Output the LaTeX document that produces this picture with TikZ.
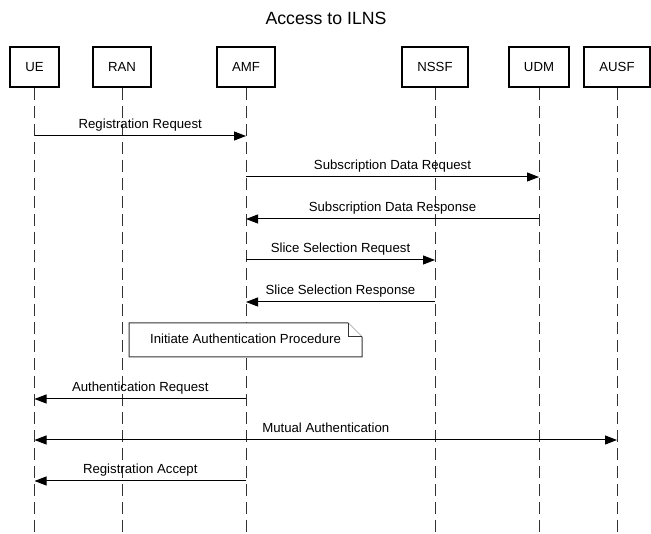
\documentclass[tikz,border=0pt]{standalone}
\usepackage{fontspec}
\setmainfont{Liberation Sans}
\usetikzlibrary{arrows.meta}
\usetikzlibrary{calc}

\tikzset{
    actor/.style={draw, line width=2pt, minimum width=47pt, minimum height=40pt, inner xsep=15pt,
        font=\fontsize{13.2}{16}\selectfont},
    lifeline/.style={draw=black!80, line width=1pt, dash pattern=on 12pt off 6pt},
    msg/.style={line width=1pt, -{Triangle[length=12pt,width=9pt]}},
    msgboth/.style={line width=1pt, {Triangle[length=12pt,width=9pt]}-{Triangle[length=12pt,width=9pt]}},
    msglabel/.style={anchor=base, inner sep=0pt, yshift=7pt, font=\fontsize{13.2}{16}\selectfont},
    notebox/.style={draw=black!80, fill=white, line width=1pt}
}

\begin{document}
\begin{tikzpicture}[x=1pt,y=-1pt]
    \useasboundingbox (0,0) rectangle (651,534);

    \node[anchor=base, font=\fontsize{17.7}{20}\selectfont] (title) at (326,25) {Access to ILNS};

    % participants
    \node[actor] (ue) at (34.5,67) {UE};
    \node[actor] (ran) at (122,67) {RAN};
    \node[actor] (amf) at (246,67) {AMF};
    \node[actor] (nssf) at (435,67) {NSSF};
    \node[actor] (udm) at (539,67) {UDM};
    \node[actor] (ausf) at (617,67) {AUSF};

    \coordinate (bottom) at (0,534);
    \foreach \n in {ue,ran,amf,nssf,udm,ausf}
        \draw[lifeline] (\n.south) -- (\n.south |- bottom);

    % messages
    \draw[msg] (ue |- 0,136) -- node[msglabel] {Registration Request} (amf |- 0,136);
    \draw[msg] (amf |- 0,177) -- node[msglabel] {Subscription Data Request} (udm |- 0,177);
    \draw[msg] (udm |- 0,219) -- node[msglabel] {Subscription Data Response} (amf |- 0,219);
    \draw[msg] (amf |- 0,260) -- node[msglabel] {Slice Selection Request} (nssf |- 0,260);
    \draw[msg] (nssf |- 0,302) -- node[msglabel] {Slice Selection Response} (amf |- 0,302);

    \filldraw[notebox] (129,323) -- (348,323) -- (362,337) -- (362,357) -- (129,357) -- cycle;
    \draw[notebox] (348,323) -- (348,337) -- (362,337);
    \node[anchor=base, inner sep=0pt, font=\fontsize{13.2}{16}\selectfont] (note) at (245.5,344) {Initiate Authentication Procedure};

    \draw[msg] (amf |- 0,399) -- node[msglabel] {Authentication Request} (ue |- 0,399);
    \draw[msgboth] (ue |- 0,440) -- node[msglabel] {Mutual Authentication} (ausf |- 0,440);
    \draw[msg] (amf |- 0,481) -- node[msglabel] {Registration Accept} (ue |- 0,481);
\end{tikzpicture}
\end{document}
